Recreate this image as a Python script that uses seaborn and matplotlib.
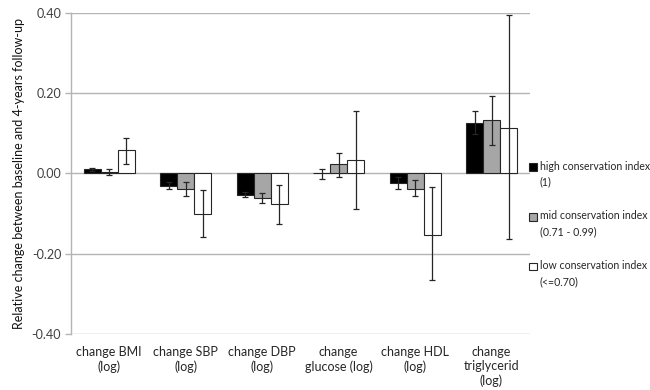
import matplotlib
matplotlib.use("Agg")
import matplotlib.pyplot as plt
from matplotlib.patches import Patch
import seaborn as sns
import pandas as pd
import numpy as np

# Outcome categories (x axis)
categories = ["change BMI\n(log)", "change SBP\n(log)", "change DBP\n(log)",
              "change\nglucose (log)", "change HDL\n(log)", "change\ntriglycerid\n(log)"]

# Group labels
groups = ["high conservation index\n(1)",
          "mid conservation index\n(0.71 - 0.99)",
          "low conservation index\n(<=0.70)"]

# Mean relative change and 95% CI bounds per group
high = [0.010, -0.031, -0.053, 0.002, -0.025, 0.126]
high_lo = [0.007, -0.040, -0.059, -0.013, -0.040, 0.097]
high_hi = [0.013, -0.022, -0.047, 0.012, -0.010, 0.155]

mid = [0.003, -0.039, -0.061, 0.023, -0.038, 0.133]
mid_lo = [-0.004, -0.057, -0.074, -0.008, -0.057, 0.071]
mid_hi = [0.011, -0.022, -0.048, 0.051, -0.017, 0.193]

low = [0.058, -0.100, -0.077, 0.034, -0.153, 0.114]
low_lo = [0.024, -0.158, -0.126, -0.088, -0.266, -0.163]
low_hi = [0.089, -0.041, -0.028, 0.155, -0.034, 0.395]

yticks = [-0.40, -0.20, 0.00, 0.20, 0.40]

sns.set_theme(style="white")
plt.rcParams["font.family"] = ["Lato", "DejaVu Sans"]

means = [high, mid, low]
los = [high_lo, mid_lo, low_lo]
his = [high_hi, mid_hi, low_hi]

df = pd.DataFrame({
    "category": categories * 3,
    "group": [g for g in groups for _ in categories],
    "value": high + mid + low,
})

colors = ["#000000", "#a6a6a6", "#ffffff"]

fig = plt.figure(figsize=(6.5, 3.9), dpi=100)
ax = fig.add_axes([0.109, 0.1436, 0.706, 0.8234])

grid_c = "#b4b4b4"
for y in yticks:
    ax.axhline(y, color=grid_c, lw=1.0, zorder=0)

sns.barplot(data=df, x="category", y="value", hue="group", order=categories,
            hue_order=groups, palette=colors, width=0.667, errorbar=None,
            edgecolor="#262626", linewidth=0.8, saturation=1, ax=ax, legend=False,
            zorder=2)

for cont, m, lo, hi in zip(ax.containers, means, los, his):
    xs = [b.get_x() + b.get_width() / 2 for b in cont]
    m = np.array(m)
    err = np.vstack([m - np.array(lo), np.array(hi) - m])
    ax.errorbar(xs, m, yerr=err, fmt="none", ecolor="#262626", elinewidth=0.9,
                capsize=2.2, capthick=0.9, zorder=3)

ax.set_ylim(-0.40, 0.40)
ax.set_xlim(-0.5, 5.5)
ax.set_yticks(yticks)
ax.set_yticklabels([f"{v:.2f}" for v in yticks])
ax.set_xlabel("")
ax.set_ylabel("Relative change between baseline and 4-years follow-up",
              fontsize=9, color="#111111", labelpad=5)

for s in ["top", "right", "bottom"]:
    ax.spines[s].set_visible(False)
ax.spines["left"].set_color(grid_c)
ax.spines["left"].set_linewidth(1.0)
ax.tick_params(axis="y", which="both", left=True, length=4, width=1.0,
               color=grid_c, labelsize=9, labelcolor="#404040", pad=3)
ax.tick_params(axis="x", bottom=False, labelsize=9, labelcolor="#262626", pad=3)
for t in ax.get_xticklabels():
    t.set_linespacing(1.2)

handles = [Patch(facecolor=c, edgecolor="#262626", linewidth=0.8) for c in colors]
leg = ax.legend(handles, groups, loc="upper left", bbox_to_anchor=(0.998, 0.54),
                frameon=False, fontsize=7.6, handlelength=0.75, handleheight=0.75,
                handletextpad=0.3, labelspacing=2.15, borderaxespad=0.0,
                borderpad=0.0, labelcolor="#262626")
for t in leg.get_texts():
    t.set_linespacing(1.55)
# align each legend key with the first line of its label
for p in leg.get_patches():
    p.set_y(p.get_y() + 5.5)

fig.savefig("out.png", dpi=100)
